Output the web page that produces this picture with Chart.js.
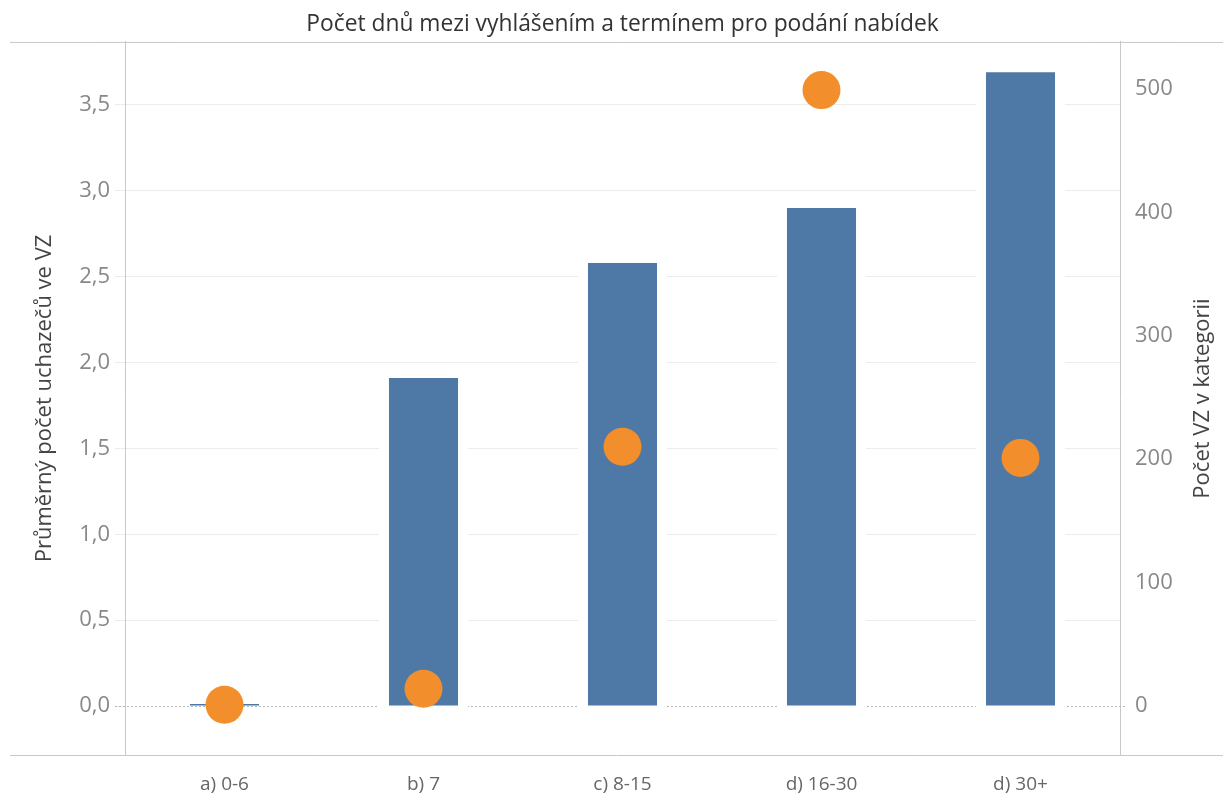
<!DOCTYPE html>
<html>
<head>
<meta charset="utf-8">
<script src="https://cdn.jsdelivr.net/npm/chart.js@4"></script>
<style>
  html, body { margin: 0; padding: 0; background: #fff; }
  #wrap { width: 1223px; height: 798px; }
</style>
</head>
<body>
<div id="wrap"><canvas id="c"></canvas></div>
<script>
// ── data ──────────────────────────
const categories = ['a) 0-6', 'b) 7', 'c) 8-15', 'd) 16-30', 'd) 30+'];
const avgBidders = [0.012, 1.91, 2.58, 2.90, 3.69];   // levá osa
const tenderCount = [1, 14, 210, 499, 201];            // pravá osa
const leftTicks = [0, 0.5, 1, 1.5, 2, 2.5, 3, 3.5];
const rightTicks = [0, 100, 200, 300, 400, 500];

const FONT = "'Open Sans', 'Noto Sans', sans-serif";
const BLUE = '#4e79a7';
const ORANGE = '#f28e2b';
const RIGHT_TITLE = 'Počet VZ v kategorii';

// rámové linky, nulová tečkovaná linka a bílé "halo" kolem sloupců
const framePlugin = {
    id: 'frame',
    beforeDatasetsDraw(chart) {
        const { ctx, chartArea: a, scales } = chart;
        const y0 = scales.y.getPixelForValue(0);
        ctx.save();
        ctx.strokeStyle = '#b5b5b5';
        ctx.lineWidth = 1;
        ctx.setLineDash([2, 2]);
        ctx.beginPath();
        ctx.moveTo(a.left - 10, y0 + 0.5);
        ctx.lineTo(a.right + 7, y0 + 0.5);
        ctx.stroke();
        ctx.setLineDash([]);

        const meta = chart.getDatasetMeta(0);
        ctx.fillStyle = '#fff';
        meta.data.forEach(bar => {
            if (bar.base - bar.y < 4) return;
            ctx.fillRect(bar.x - bar.width / 2 - 10, bar.y - 10, bar.width + 20, bar.base - bar.y + 12);
        });
        ctx.restore();
    },
    afterDraw(chart) {
        const { ctx, chartArea: a, width } = chart;
        ctx.save();
        ctx.strokeStyle = '#c8c8c8';
        ctx.lineWidth = 1;
        ctx.beginPath();
        ctx.moveTo(10, a.top + 0.5);
        ctx.lineTo(width, a.top + 0.5);
        ctx.moveTo(10, a.bottom + 0.5);
        ctx.lineTo(width, a.bottom + 0.5);
        ctx.stroke();

        // název pravé osy – čteno zdola nahoru jako vlevo
        ctx.translate(1203, (a.top + a.bottom) / 2);
        ctx.rotate(-Math.PI / 2);
        ctx.fillStyle = '#444';
        ctx.font = `22px ${FONT}`;
        ctx.textAlign = 'center';
        ctx.textBaseline = 'middle';
        ctx.fillText(RIGHT_TITLE, 0, 0);
        ctx.restore();
    }
};

new Chart(document.getElementById('c'), {
    type: 'bar',
    data: {
        labels: categories,
        datasets: [
            {
                type: 'bar',
                label: 'Průměrný počet uchazečů ve VZ',
                data: avgBidders,
                backgroundColor: BLUE,
                categoryPercentage: 1,
                barPercentage: 0.347,
                yAxisID: 'y',
                order: 2,
            },
            {
                type: 'line',
                label: RIGHT_TITLE,
                data: tenderCount,
                showLine: false,
                pointRadius: 19,
                pointHoverRadius: 19,
                pointBackgroundColor: ORANGE,
                pointBorderWidth: 0,
                yAxisID: 'y2',
                order: 1,
            }
        ]
    },
    options: {
        responsive: true,
        maintainAspectRatio: false,
        animation: false,
        layout: { padding: 0 },
        plugins: {
            legend: { display: false },
            tooltip: { enabled: false },
            title: {
                display: true,
                fullSize: false,
                text: 'Počet dnů mezi vyhlášením a termínem pro podání nabídek',
                color: '#333',
                font: { family: FONT, size: 22.8, weight: 'normal' },
                padding: { top: 10.5, bottom: 4.1 },
            }
        },
        scales: {
            x: {
                grid: { display: false },
                border: { display: false },
                ticks: {
                    color: '#666',
                    padding: 10,
                    font: { family: FONT, size: 19 },
                },
                afterFit: s => { s.height = 43; },
            },
            y: {
                position: 'left',
                min: -0.285,
                max: 3.867,
                afterBuildTicks: s => { s.ticks = leftTicks.map(v => ({ value: v })); },
                grid: {
                    color: c => (c.tick && c.tick.value === 0) ? 'transparent' : '#ececec',
                    tickColor: '#ececec',
                    tickLength: 10,
                },
                border: { display: true, color: '#c8c8c8' },
                ticks: {
                    color: '#888',
                    padding: 5,
                    font: { family: FONT, size: 22 },
                    callback: v => v.toFixed(1).replace('.', ','),
                },
                title: {
                    display: true,
                    text: 'Průměrný počet uchazečů ve VZ',
                    color: '#444',
                    font: { family: FONT, size: 22 },
                    padding: { top: 32 },
                },
                afterFit: s => { s.width = 125; },
            },
            y2: {
                position: 'right',
                min: -39.7,
                max: 538,
                afterBuildTicks: s => { s.ticks = rightTicks.map(v => ({ value: v })); },
                grid: { drawOnChartArea: false, drawTicks: false },
                border: { display: true, color: '#c8c8c8' },
                ticks: {
                    color: '#888',
                    padding: 15,
                    font: { family: FONT, size: 22 },
                },
                afterFit: s => { s.width = 103; },
            }
        }
    },
    plugins: [framePlugin]
});
</script>
</body>
</html>
